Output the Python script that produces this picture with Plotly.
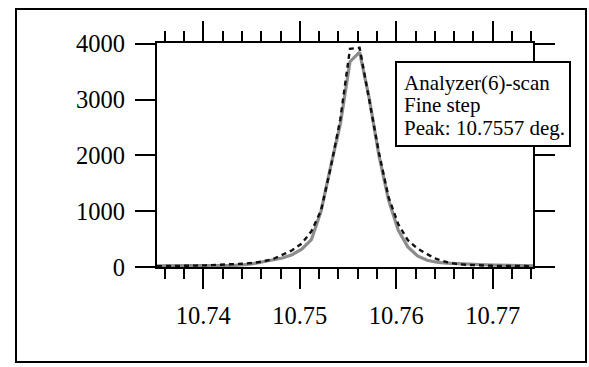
import plotly.graph_objects as go

# ---- data ----
angle_deg = [10.7352, 10.7362, 10.7372, 10.7382, 10.7392, 10.7402, 10.7412, 10.7422,
             10.7432, 10.7442, 10.7452, 10.7462, 10.7472, 10.7482, 10.7492, 10.7502,
             10.7512, 10.7522, 10.7532, 10.7542, 10.7552, 10.7562, 10.7572, 10.7582,
             10.7592, 10.7602, 10.7612, 10.7622, 10.7632, 10.7642, 10.7652, 10.7662,
             10.7672, 10.7682, 10.7692, 10.7702, 10.7712, 10.7722, 10.7732, 10.7742]

intensity_measured = [20, 20, 20, 20, 20, 20, 25, 25,
                      30, 40, 60, 95, 125, 160, 220, 320,
                      490, 1000, 1800, 2560, 3680, 3850, 3020, 2000,
                      1200, 660, 360, 200, 120, 85, 70, 60,
                      50, 45, 40, 35, 30, 25, 25, 20]

intensity_fit = [15, 15, 20, 20, 25, 30, 35, 40,
                 50, 60, 75, 100, 140, 215, 300, 420,
                 640, 1010, 1780, 2650, 3910, 3930, 3000, 2050,
                 1250, 770, 480, 330, 230, 140, 90, 55,
                 40, 30, 25, 20, 20, 15, 15, 15]

legend_lines = ["Analyzer(6)-scan", "Fine step", "Peak: 10.7557 deg."]
x_ticks = [10.74, 10.75, 10.76, 10.77]
x_tick_text = ["10.74", "10.75", "10.76", "10.77"]
y_ticks = [0, 1000, 2000, 3000, 4000]
y_tick_text = ["0", "1000", "2000", "3000", "4000"]

FONT = "Liberation Serif, Times New Roman, serif"

fig = go.Figure()
fig.add_trace(go.Scatter(x=angle_deg, y=intensity_measured, mode="lines",
                         line=dict(color="#8c8c8c", width=3.2), showlegend=False))
fig.add_trace(go.Scatter(x=angle_deg, y=intensity_fit, mode="lines",
                         line=dict(color="#111111", width=2.4, dash="5px,4px"),
                         showlegend=False))

# plot area in pixels: x 157..533, y 43..267
L, R, T, B = 157, 56, 43, 100
W, H = 589, 367
pw, ph = W - L - R, H - T - B


def px(xp):
    return (xp - L) / pw


def py(yp):
    return (H - B - yp) / ph


# outer frame
fig.add_shape(type="rect", xref="paper", yref="paper",
              x0=px(16), x1=px(586), y0=py(362), y1=py(9),
              line=dict(color="black", width=2), layer="below")

# legend box
fig.add_shape(type="rect", xref="paper", yref="paper",
              x0=px(396), x1=px(570), y0=py(146), y1=py(62),
              line=dict(color="black", width=2), fillcolor="white", layer="above")
for i, t in enumerate(legend_lines):
    fig.add_annotation(xref="paper", yref="paper", x=px(402), y=py(83 + 22.5 * i),
                       xanchor="left", yanchor="middle", text=t, showarrow=False,
                       font=dict(family=FONT, size=21, color="black"))

fig.update_xaxes(range=[10.7352, 10.77417], tickvals=x_ticks, ticktext=x_tick_text,
                 ticks="outside", ticklen=20, tickwidth=2, tickcolor="black",
                 showline=True, linecolor="black", linewidth=2, mirror="ticks",
                 showgrid=False, zeroline=False, ticklabelstandoff=6,
                 tickfont=dict(family=FONT, size=24.5, color="black"),
                 minor=dict(dtick=0.002, tick0=10.74, ticks="outside", ticklen=10,
                            tickwidth=2, tickcolor="black", showgrid=False))
fig.update_yaxes(range=[0, 4015], tickvals=y_ticks, ticktext=y_tick_text,
                 ticks="outside", ticklen=20, tickwidth=2, tickcolor="black",
                 showline=True, linecolor="black", linewidth=2, mirror="ticks",
                 showgrid=False, zeroline=False, ticklabelstandoff=5,
                 tickfont=dict(family=FONT, size=24.5, color="black"))

fig.update_layout(width=W, height=H, margin=dict(l=L, r=R, t=T, b=B),
                  plot_bgcolor="white", paper_bgcolor="white")

fig.write_html("out.html")
